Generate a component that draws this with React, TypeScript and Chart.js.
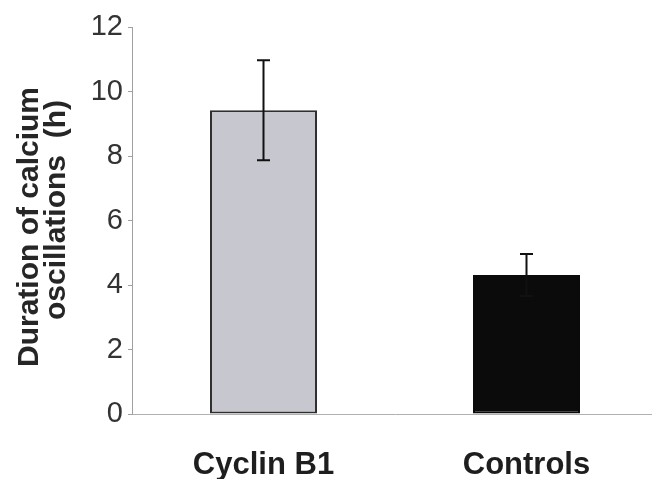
import React, { useEffect, useRef } from "react";
import { Chart, registerables } from "chart.js";

Chart.register(...registerables);

// Mean duration of calcium oscillations (hours) with error
const categories = ["Cyclin B1", "Controls"];
const durations = [9.42, 4.31];
const errors = [1.55, 0.65];
const barColors = ["#c7c7d0", "#0b0b0b"];
const barBorders = ["#2e2e2e", "#0b0b0b"];
const yTitleLines = ["Duration of calcium", "oscillations  (h)"];

const FONT = "'Liberation Sans', Arial, Helvetica, sans-serif";

const errorBars = {
  id: "errorBars",
  afterDatasetsDraw(chart: any) {
    const { ctx } = chart;
    const y = chart.scales.y;
    const meta = chart.getDatasetMeta(0);
    ctx.save();
    ctx.strokeStyle = "#111";
    ctx.lineWidth = 2;
    meta.data.forEach((bar: any, i: number) => {
      const top = y.getPixelForValue(durations[i] + errors[i]);
      const bottom = y.getPixelForValue(durations[i] - errors[i]);
      const x = bar.x;
      ctx.beginPath();
      ctx.moveTo(x, top);
      ctx.lineTo(x, bottom);
      ctx.moveTo(x - 6.5, top);
      ctx.lineTo(x + 6.5, top);
      ctx.moveTo(x - 6.5, bottom);
      ctx.lineTo(x + 6.5, bottom);
      ctx.stroke();
    });
    ctx.restore();
  },
};

const yTitle = {
  id: "yTitle",
  afterDraw(chart: any) {
    const { ctx } = chart;
    const placements = [
      { x: 38, y: 227 },
      { x: 65, y: 210 },
    ];
    ctx.save();
    ctx.fillStyle = "#262626";
    ctx.font = `bold 30px ${FONT}`;
    ctx.textAlign = "center";
    ctx.textBaseline = "alphabetic";
    yTitleLines.forEach((line, i) => {
      ctx.save();
      ctx.translate(placements[i].x, placements[i].y);
      ctx.rotate(-Math.PI / 2);
      ctx.fillText(line, 0, 0);
      ctx.restore();
    });
    ctx.restore();
  },
};

export default function App() {
  const canvasRef = useRef<HTMLCanvasElement | null>(null);

  useEffect(() => {
    if (!canvasRef.current) return;
    const chart = new Chart(canvasRef.current, {
      type: "bar",
      data: {
        labels: categories,
        datasets: [
          {
            data: durations,
            backgroundColor: barColors,
            borderColor: barBorders,
            borderWidth: 2,
            borderSkipped: false,
            barPercentage: 1,
            categoryPercentage: 0.407,
          },
        ],
      },
      options: {
        responsive: false,
        animation: false,
        layout: { padding: { top: 27, left: 0, right: 0, bottom: 0 } },
        plugins: {
          legend: { display: false },
          tooltip: { enabled: false },
        },
        scales: {
          x: {
            grid: { display: false },
            border: { display: true, color: "#b0b0b0", width: 1 },
            ticks: {
              color: "#1e1e1e",
              font: { family: FONT, size: 31, weight: "bold" },
              padding: 25,
            },
            afterFit(scale: any) {
              scale.height = 65;
            },
          },
          y: {
            min: 0,
            max: 12,
            ticks: {
              stepSize: 2,
              color: "#333",
              font: { family: FONT, size: 29 },
              padding: 5,
            },
            grid: {
              drawOnChartArea: false,
              drawTicks: true,
              tickLength: 4,
              color: "#a0a0a0",
            },
            border: { display: true, color: "#a0a0a0", width: 1 },
            afterFit(scale: any) {
              scale.width = 132;
            },
          },
        },
      },
      plugins: [errorBars, yTitle],
    });
    return () => chart.destroy();
  }, []);

  return (
    <div
      style={{
        position: "absolute",
        left: 0,
        top: 0,
        width: 652,
        height: 479,
        overflow: "hidden",
        background: "#fff",
      }}
    >
      <canvas ref={canvasRef} width={658} height={479} style={{ display: "block" }} />
    </div>
  );
}
